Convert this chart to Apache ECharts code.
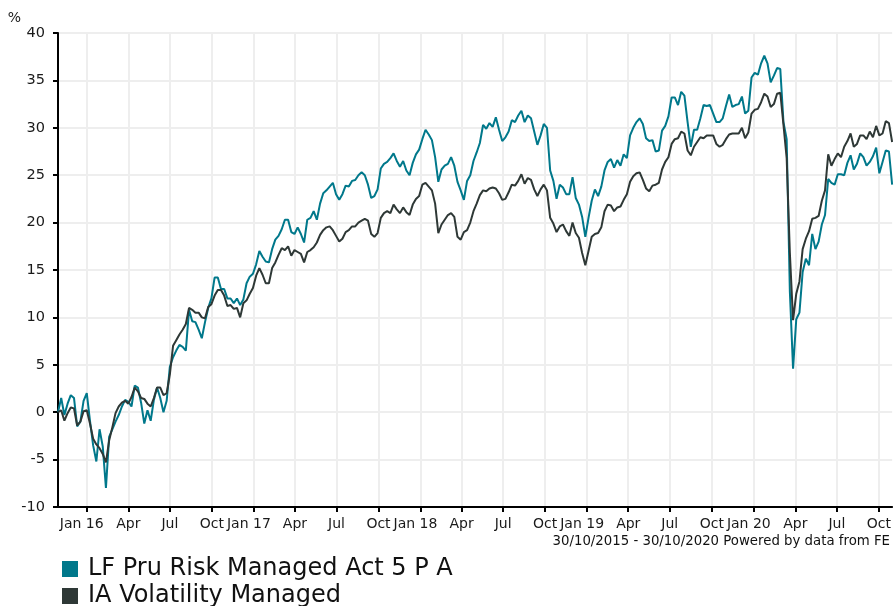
<!DOCTYPE html>
<html>
<head>
<meta charset="utf-8">
<script src="https://cdn.jsdelivr.net/npm/echarts@6/dist/echarts.min.js"></script>
<style>
  html, body { margin: 0; padding: 0; background: #fff; }
  #chart { width: 894px; height: 606px; }
</style>
</head>
<body>
<div id="chart"></div>
<script>
// weekly cumulative performance (%), first point 30/10/2015
const startDate = '2015-10-30'
const endDate = '2020-10-30'
const stepDays = 7

const fundName = 'LF Pru Risk Managed Act 5 P A'
const sectorName = 'IA Volatility Managed'

const fundValues = [
  0, 1.5, -0.3, 0.9, 1.8, 1.5, -1.5, -1.0, 1.2, 2.0,
  -0.9, -3.5, -5.2, -1.8, -3.6, -8.0, -2.6, -1.8, -1.0, -0.3,
  0.6, 1.3, 1.1, 0.6, 2.8, 2.6, 1.0, -1.2, 0.2, -0.9,
  1.3, 2.6, 1.5, 0.0, 1.2, 4.8, 5.8, 6.5, 7.1, 6.9,
  6.5, 10.8, 9.6, 9.5, 8.7, 7.8, 9.5, 11.0, 12.0, 14.2,
  14.2, 13.0, 13.0, 12.0, 12.0, 11.5, 12.0, 11.3, 11.9, 13.6,
  14.3, 14.6, 15.6, 17.0, 16.4, 15.9, 15.8, 17.2, 18.2, 18.6,
  19.3, 20.3, 20.3, 19.0, 18.8, 19.5, 18.8, 17.9, 20.3, 20.5,
  21.2, 20.3, 22.0, 23.1, 23.4, 23.8, 24.2, 23.0, 22.4, 23.0,
  23.9, 23.8, 24.4, 24.5, 25.0, 25.3, 25.0, 24.0, 22.6, 22.8,
  23.5, 25.7, 26.2, 26.4, 26.8, 27.3, 26.5, 25.9, 26.5, 25.5,
  25.0, 26.3, 27.2, 27.7, 28.8, 29.8, 29.3, 28.7, 26.9, 24.3,
  25.6, 26.0, 26.2, 26.9, 26.0, 24.3, 23.4, 22.4, 24.4, 25.0,
  26.5, 27.4, 28.4, 30.3, 29.9, 30.5, 30.1, 31.1, 29.8, 28.6,
  29.0, 29.6, 30.8, 30.6, 31.3, 31.8, 30.6, 31.3, 31.0, 29.6,
  28.2, 29.2, 30.4, 30.0, 25.5, 24.4, 22.5, 24.0, 23.7, 23.0,
  23.0, 24.8, 22.6, 21.9, 20.6, 18.5, 20.5, 22.3, 23.5, 22.8,
  23.8, 25.5, 26.4, 26.7, 25.8, 26.6, 26.0, 27.2, 26.8, 29.2,
  30.0, 30.6, 31.0, 30.4, 28.9, 28.6, 28.7, 27.5, 27.6, 29.7,
  30.2, 31.2, 33.2, 33.2, 32.4, 33.8, 33.4, 30.6, 28.0, 29.8,
  29.8, 31.0, 32.4, 32.3, 32.4, 31.5, 30.6, 30.6, 31.0, 32.3,
  33.5, 32.2, 32.4, 32.5, 33.3, 31.5, 31.8, 35.3, 35.8, 35.6,
  36.8, 37.6, 36.8, 34.8, 35.5, 36.3, 36.2, 30.6, 28.8, 12.7,
  4.6, 9.8, 10.5, 14.8, 16.2, 15.5, 18.8, 17.2, 18.0, 19.8,
  20.8, 24.6, 24.2, 24.0, 25.1, 25.1, 25.0, 26.3, 27.1, 25.6,
  26.2, 27.3, 26.9, 26.0, 26.4, 27.0, 27.9, 25.2, 26.4, 27.6,
  27.5, 24.0
]

const sectorValues = [
  0, 0.2, -0.9, -0.1, 0.5, 0.4, -1.4, -1.0, 0.1, 0.2,
  -1.2, -2.8, -3.4, -3.8, -4.4, -5.3, -3.0, -1.6, -0.1, 0.6,
  1.0, 1.2, 0.9, 1.6, 2.6, 2.2, 1.5, 1.4, 0.9, 0.6,
  1.5, 2.6, 2.6, 1.8, 2.0, 4.0, 7.0, 7.6, 8.2, 8.7,
  9.3, 11.0, 10.8, 10.5, 10.5, 10.0, 9.9, 11.1, 11.4, 12.3,
  12.9, 12.9, 12.3, 11.2, 11.3, 10.9, 11.0, 10.0, 11.5, 11.8,
  12.5, 13.1, 14.4, 15.2, 14.5, 13.6, 13.6, 15.2, 15.8, 16.6,
  17.3, 17.1, 17.5, 16.5, 17.1, 16.9, 16.7, 15.8, 16.9, 17.1,
  17.4, 17.9, 18.7, 19.2, 19.5, 19.6, 19.2, 18.6, 18.0, 18.3,
  19.0, 19.2, 19.6, 19.6, 20.0, 20.2, 20.4, 20.2, 18.8, 18.5,
  18.9, 20.5, 21.0, 21.2, 21.0, 21.9, 21.4, 21.0, 21.6, 21.1,
  20.8, 21.9, 22.5, 22.8, 24.0, 24.2, 23.8, 23.4, 22.0, 18.9,
  19.8, 20.3, 20.8, 21.0, 20.6, 18.5, 18.2, 19.0, 19.2, 20.0,
  21.2, 22.0, 22.9, 23.4, 23.3, 23.6, 23.7, 23.6, 23.1, 22.4,
  22.5, 23.2, 24.0, 23.9, 24.4, 25.1, 24.1, 24.7, 24.5, 23.5,
  22.8, 23.5, 24.0, 23.4, 20.5, 19.9, 19.0, 19.6, 19.8, 19.1,
  18.6, 20.0, 18.9, 18.4, 16.8, 15.5, 17.0, 18.5, 18.8, 18.9,
  19.5, 21.2, 21.9, 21.8, 21.2, 21.6, 21.7, 22.4, 23.0, 24.3,
  24.9, 25.2, 25.3, 24.5, 23.6, 23.3, 23.9, 24.0, 24.2, 25.6,
  26.4, 26.9, 28.3, 28.8, 28.9, 29.6, 29.4, 27.6, 27.1, 28.0,
  28.5, 29.0, 28.9, 29.2, 29.2, 29.2, 28.3, 28.0, 28.2, 28.8,
  29.3, 29.4, 29.4, 29.4, 30.0, 28.9, 29.5, 31.5, 31.9, 32.0,
  32.7, 33.6, 33.3, 32.2, 32.5, 33.6, 33.7, 30.3, 26.8, 16.8,
  9.7, 12.5, 13.8, 17.2, 18.3, 19.1, 20.4, 20.5, 20.7, 22.3,
  23.4, 27.2, 26.0, 26.7, 27.3, 26.9, 28.0, 28.6, 29.4, 28.0,
  28.3, 29.2, 29.2, 28.8, 29.6, 29.0, 30.2, 29.2, 29.4, 30.7,
  30.5, 28.5
]

const tickDates = [
  '2016-01-01', '2016-04-01', '2016-07-01', '2016-10-01',
  '2017-01-01', '2017-04-01', '2017-07-01', '2017-10-01',
  '2018-01-01', '2018-04-01', '2018-07-01', '2018-10-01',
  '2019-01-01', '2019-04-01', '2019-07-01', '2019-10-01',
  '2020-01-01', '2020-04-01', '2020-07-01', '2020-10-01'
]
const tickLabels = [
  'Jan 16', 'Apr', 'Jul', 'Oct',
  'Jan 17', 'Apr', 'Jul', 'Oct',
  'Jan 18', 'Apr', 'Jul', 'Oct',
  'Jan 19', 'Apr', 'Jul', 'Oct',
  'Jan 20', 'Apr', 'Jul', 'Oct'
]

const footerText = '30/10/2015 - 30/10/2020 Powered by data from FE'

const DAY = 86400000
const t0 = Date.parse(startDate)
const toPairs = vals => vals.map((v, i) => [t0 + i * stepDays * DAY, v])
const tickTimes = tickDates.map(d => Date.parse(d))
const labelAt = {}
tickTimes.forEach((t, i) => { labelAt[t] = tickLabels[i] })

const FONT = '"DejaVu Sans", Verdana, sans-serif'
const gridLine = { show: true, lineStyle: { color: '#eeeeee', width: 2 } }

const chart = echarts.init(document.getElementById('chart'))
chart.setOption({
  animation: false,
  textStyle: { fontFamily: FONT },
  title: {
    text: footerText,
    right: 4,
    top: 535,
    padding: 0,
    textStyle: { fontSize: 13.3, fontWeight: 'normal', color: '#111', fontFamily: FONT }
  },
  legend: {
    data: [fundName, sectorName],
    orient: 'vertical',
    left: 62,
    top: 557,
    height: 90,
    padding: 0,
    itemWidth: 16,
    itemHeight: 16,
    itemGap: 3,
    icon: 'rect',
    textStyle: { fontSize: 24, color: '#111', fontFamily: FONT, padding: [0, 0, 0, 5] }
  },
  grid: { left: 58, right: 1, top: 33, bottom: 99 },
  xAxis: {
    type: 'value',
    min: Date.parse(startDate),
    max: Date.parse(endDate),
    axisLine: { onZero: false, lineStyle: { color: '#000', width: 2 } },
    axisTick: { length: 5, customValues: tickTimes, lineStyle: { color: '#000', width: 2 } },
    axisLabel: {
      customValues: tickTimes,
      fontSize: 14,
      color: '#1a1a1a',
      margin: 10,
      formatter: v => {
        const s = labelAt[v] || ''
        return s.startsWith('Jan') ? '{j|' + s + '}' : s
      },
      rich: { j: { fontSize: 14, color: '#1a1a1a', fontFamily: FONT, padding: [0, 10, 0, 0] } }
    },
    splitLine: gridLine
  },
  yAxis: {
    type: 'value',
    min: -10,
    max: 40,
    interval: 5,
    name: '%',
    nameLocation: 'end',
    nameGap: 8,
    nameTextStyle: { fontSize: 14, color: '#1a1a1a', align: 'right', padding: [0, 37, 0, 0] },
    axisLine: { show: true, lineStyle: { color: '#000', width: 2 } },
    axisTick: { show: true, length: 5, lineStyle: { color: '#000', width: 2 } },
    axisLabel: { fontSize: 14.5, color: '#1a1a1a', margin: 13 },
    splitLine: gridLine
  },
  series: [
    {
      name: fundName,
      type: 'line',
      data: toPairs(fundValues),
      showSymbol: false,
      symbol: 'none',
      lineStyle: { color: '#00788b', width: 2 },
      itemStyle: { color: '#00788b' }
    },
    {
      name: sectorName,
      type: 'line',
      data: toPairs(sectorValues),
      showSymbol: false,
      symbol: 'none',
      lineStyle: { color: '#2e3836', width: 2 },
      itemStyle: { color: '#2e3836' }
    }
  ]
})
</script>
</body>
</html>
